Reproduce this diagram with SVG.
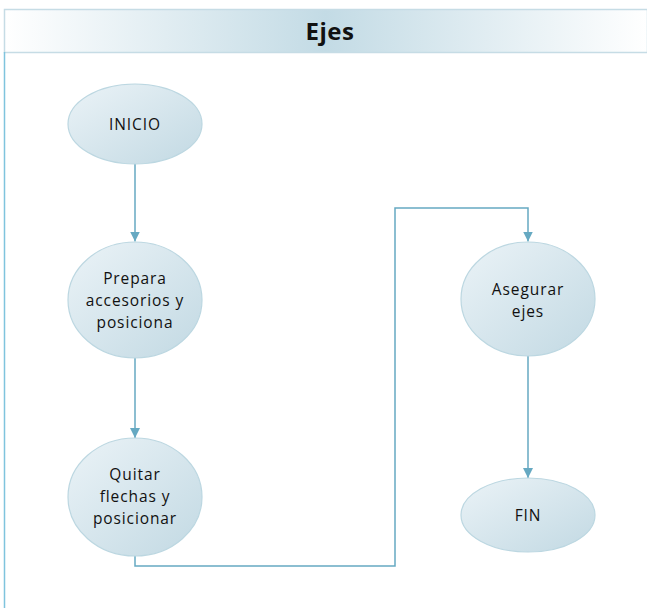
<svg xmlns="http://www.w3.org/2000/svg" width="647" height="608" viewBox="0 0 647 608">
  <defs>
    <linearGradient id="hdr" x1="0" y1="0" x2="1" y2="0">
      <stop offset="0" stop-color="#ffffff"/>
      <stop offset="0.5" stop-color="#c3dbe5"/>
      <stop offset="1" stop-color="#ffffff"/>
    </linearGradient>
    <linearGradient id="node" x1="0" y1="0" x2="1" y2="1">
      <stop offset="0" stop-color="#ebf3f7"/>
      <stop offset="1" stop-color="#c2d9e3"/>
    </linearGradient>
    <marker id="arr" viewBox="0 0 10 10" refX="10" refY="5" markerWidth="10" markerHeight="10" markerUnits="userSpaceOnUse" orient="auto">
      <path d="M0,0 L10,5 L0,10 Z" fill="#66a9c2"/>
    </marker>
  </defs>
  <style>
    .node { fill: url(#node); stroke: #bcd7e1; stroke-width: 1.2; }
    .lbl { font-family: "Open Sans", "Liberation Sans", sans-serif; font-size: 15.5px; fill: #111; text-anchor: middle; letter-spacing: 0.9px; }
    .conn { fill: none; stroke: #66a9c2; stroke-width: 1.5; }
  </style>

  <!-- swimlane -->
  <g id="lane">
    <rect x="4.5" y="9.5" width="643" height="43" fill="url(#hdr)" stroke="#c6dce5" stroke-width="1.5"/>
    <line x1="4.5" y1="52" x2="4.5" y2="608" stroke="#7fc4dd" stroke-width="1.5"/>
    <text x="330" y="40" font-family="'Open Sans', 'Liberation Sans', sans-serif" font-size="24" font-weight="bold" text-anchor="middle" fill="#111" letter-spacing="0.5">Ejes</text>
  </g>

  <!-- connectors -->
  <g id="connectors">
    <path class="conn" d="M135,164 V241.5" marker-end="url(#arr)"/>
    <path class="conn" d="M135,358 V438" marker-end="url(#arr)"/>
    <path class="conn" d="M135,555 V566 H395 V208 H528 V241.5" marker-end="url(#arr)"/>
    <path class="conn" d="M528,356 V478" marker-end="url(#arr)"/>
  </g>

  <g id="inicio">
    <ellipse class="node" cx="135" cy="124" rx="67" ry="40"/>
    <text class="lbl" x="135" y="130">INICIO</text>
  </g>

  <g id="prepara">
    <ellipse class="node" cx="135" cy="300" rx="67" ry="58"/>
    <text class="lbl" x="135" y="284">Prepara</text>
    <text class="lbl" x="135" y="306">accesorios y</text>
    <text class="lbl" x="135" y="328">posiciona</text>
  </g>

  <g id="quitar">
    <ellipse class="node" cx="135" cy="497" rx="67" ry="59"/>
    <text class="lbl" x="135" y="480">Quitar</text>
    <text class="lbl" x="135" y="502">flechas y</text>
    <text class="lbl" x="135" y="524">posicionar</text>
  </g>

  <g id="asegurar">
    <ellipse class="node" cx="528" cy="299" rx="67" ry="57"/>
    <text class="lbl" x="528" y="295">Asegurar</text>
    <text class="lbl" x="528" y="317">ejes</text>
  </g>

  <g id="fin">
    <ellipse class="node" cx="528" cy="515" rx="67" ry="37"/>
    <text class="lbl" x="528" y="521">FIN</text>
  </g>
</svg>
